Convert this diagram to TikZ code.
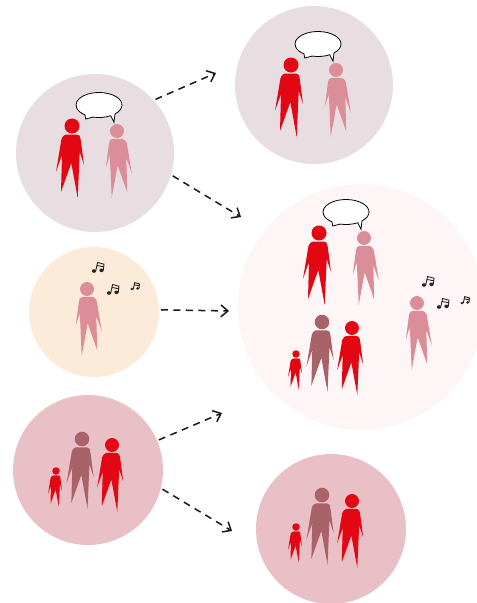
\documentclass[tikz,border=0pt]{standalone}
\usetikzlibrary{arrows.meta}
\definecolor{talkbg}{HTML}{E8DEE1}
\definecolor{allbg}{HTML}{FDF5F6}
\definecolor{musicbg}{HTML}{FDEBDA}
\definecolor{familybg}{HTML}{E8C0C6}
\definecolor{manred}{HTML}{E30613}
\definecolor{manpink}{HTML}{DB8E97}
\definecolor{manbrown}{HTML}{A96268}
\tikzset{
	groupcircle/.style={circle, draw=none, inner sep=0pt, outer sep=0pt},
	flowarrow/.style={->, line width=1.5pt, dash pattern=on 7pt off 5.5pt, black!90},
	person/.pic={
		\fill[pic actions] (0,0) circle (7.5);
		\fill[pic actions] (-16,45.7) -- (-10.5,13) [rounded corners=2.5pt] -- (-8,8.5) -- (7,8.5) -- (8.5,12) [sharp corners] -- (12,39)
			-- (7.7,26) -- (5.7,72) -- (-0.7,37) -- (-11,66) -- (-10,29) -- cycle;
	},
	bubble/.pic={
		\draw[fill=white, line width=0.8pt] (127.5:23 and 12.5) -- (-13.3,14) -- (105:23 and 12.5)
			arc[start angle=105, end angle=59.4, x radius=23, y radius=12.5] -- (15,17.3) -- (46:23 and 12.5)
			arc[start angle=46, end angle=-232.5, x radius=23, y radius=12.5] -- cycle;
	},
	tune/.pic={
		\fill[black!85] (0,0) ellipse (2.2 and 1.8) (7.5,-0.7) ellipse (2.2 and 1.8);
		\draw[black!85, line width=0.9pt] (1.7,0) -- (3.6,-8.5) -- (10,-6.8) -- (9.3,-0.7) (3,-5.6) -- (9.7,-4.2);
	},
}
\begin{document}
\begin{tikzpicture}[x=1pt, y=-1pt, >={Straight Barb[length=7pt, width=12pt]}]
	\useasboundingbox (0,0) rectangle (477,603);
	% circles
	\node[groupcircle, fill=talkbg, minimum size=158pt] (talkleft) at (95,153) {};
	\node[groupcircle, fill=talkbg, minimum size=158pt] (talkright) at (314,85) {};
	\node[groupcircle, fill=musicbg, minimum size=130pt] (musicleft) at (94,312) {};
	\node[groupcircle, fill=familybg, minimum size=150pt] (familyleft) at (88,470) {};
	\node[groupcircle, fill=familybg, minimum size=150pt] (familyright) at (331,529) {};
	\node[groupcircle, fill=allbg, minimum size=246pt] (allright) at (361,307) {};
	% talking pairs
	\foreach \x / \y in {0/0, 219/-61, 247/107} {
		\pic[fill=manred] at (72+\x,126+\y) {person};
		\pic[fill=manpink, xscale=-0.93, yscale=0.93] at (117+\x,131+\y) {person};
		\pic at (99+\x,105+\y) {bubble};
	}
	% listeners
	\foreach \x / \y in {0/0, 330/14} {
		\pic[fill=manpink, xscale=-0.93, yscale=0.93] at (87+\x,289+\y) {person};
		\pic at (94+\x,271+\y) {tune};
		\pic at (109+\x,293+\y) {tune};
		\pic[scale=0.75] at (132+\x,289+\y) {tune};
	}
	% families
	\foreach \x / \y in {0/0, 240/-117, 240/56} {
		\pic[fill=manred, scale=0.5] at (56+\x,471+\y) {person};
		\pic[fill=manbrown, scale=0.97] at (82+\x,439+\y) {person};
		\pic[fill=manred, scale=0.93] at (112+\x,445+\y) {person};
	}
	% arrows
	\coordinate (tiptalk) at (216,73);
	\coordinate (tipalltalk) at (241,217);
	\coordinate (tipallmusic) at (229,311);
	\coordinate (tipallfamily) at (222,413);
	\coordinate (tipfamily) at (232,531);
	\foreach \from / \to in {talkleft.42/tiptalk, talkleft.-16/tipalltalk, musicleft.2/tipallmusic, familyleft.23/tipallfamily, familyleft.-14/tipfamily} {
		\draw[flowarrow, shorten <=2pt] (\from) -- (\to);
	}
\end{tikzpicture}
\end{document}
